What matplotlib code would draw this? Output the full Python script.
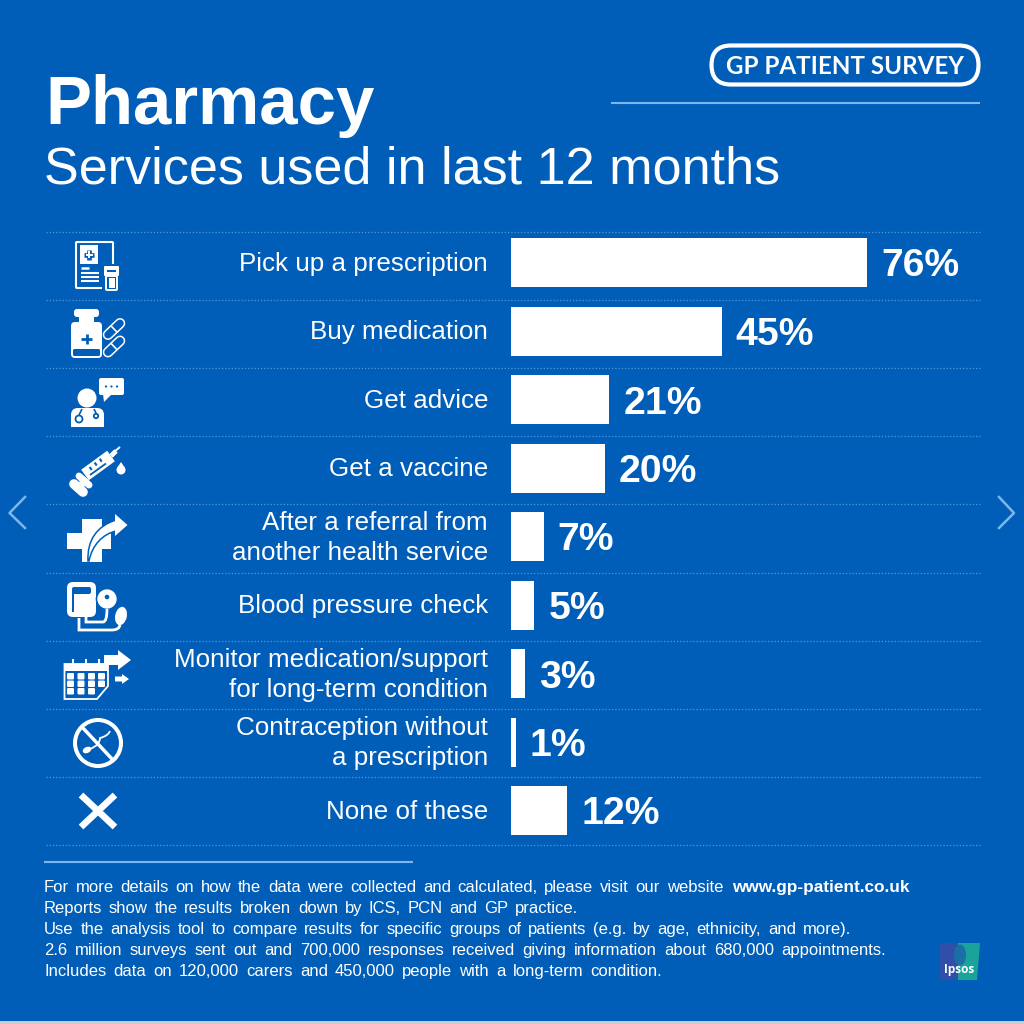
#!/usr/bin/env python3
# Pharmacy services infographic, GP Patient Survey
import matplotlib
matplotlib.use("Agg")
import matplotlib.pyplot as plt
from matplotlib.patches import Rectangle, FancyBboxPatch, Circle, Ellipse, Polygon, PathPatch
from matplotlib.path import Path as MPath

BLUE = "#015EB8"
LIGHT = "#7DB5EE"
WHITE = "#FFFFFF"

plt.rcParams["font.family"] = ["Liberation Sans", "DejaVu Sans"]

labels = [
    "Pick up a prescription",
    "Buy medication",
    "Get advice",
    "Get a vaccine",
    "After a referral from\nanother health service",
    "Blood pressure check",
    "Monitor medication/support\nfor long-term condition",
    "Contraception without\na prescription",
    "None of these",
]
values = [76, 45, 21, 20, 7, 5, 3, 1, 12]
footer_lines = [
    "For more details on how the data were collected and calculated, please visit our website",
    "Reports show the results broken down by ICS, PCN and GP practice.",
    "Use the analysis tool to compare results for specific groups of patients (e.g. by age, ethnicity, and more).",
    "2.6 million surveys sent out and 700,000 responses received giving information about 680,000 appointments.",
    "Includes data on 120,000 carers and 450,000 people with a long-term condition.",
]
footer_link = "www.gp-patient.co.uk"


def box(ax, x, y, w, h, r=2, **kw):
    kw.setdefault("fc", WHITE)
    kw.setdefault("ec", "none")
    ax.add_patch(FancyBboxPatch((x + r, y + r), w - 2 * r, h - 2 * r,
                                boxstyle=f"round,pad={r},rounding_size={r}", **kw))


def rect(ax, x, y, w, h, c=WHITE):
    ax.add_patch(Rectangle((x, y), w, h, fc=c, ec="none"))


def poly(ax, pts, c=WHITE, **kw):
    ax.add_patch(Polygon(pts, closed=True, fc=c, ec="none", **kw))


def seg(ax, x0, y0, x1, y1, lw=1.5, c=WHITE, cap="butt"):
    ax.plot([x0, x1], [y0, y1], color=c, lw=lw, solid_capstyle=cap)


def capsule(ax, cx, cy):
    dx, dy = 6, -5.7
    seg(ax, cx - dx, cy - dy, cx + dx, cy + dy, 7.6, WHITE, "round")
    seg(ax, cx - dx, cy - dy, cx + dx, cy + dy, 5.4, BLUE, "round")
    seg(ax, cx - 3.3, cy - 3.5, cx + 3.3, cy + 3.5, 1.2)


def icon_prescription(ax):
    box(ax, 76, 242, 37, 46, 1, fc=BLUE, ec=WHITE, lw=1.5)
    rect(ax, 80, 245, 18, 19)
    seg(ax, 84, 254.5, 94, 254.5, 3.4, BLUE)
    seg(ax, 89, 249.5, 89, 259.5, 3.4, BLUE)
    seg(ax, 85.5, 254.5, 92.5, 254.5, 1.4)
    seg(ax, 89, 251, 89, 258, 1.4)
    seg(ax, 81, 268, 89, 268, 1.8)
    for y in (273, 277, 281):
        seg(ax, 81, y, 99, y, 1.5)
    rect(ax, 102, 264, 20, 28, BLUE)
    box(ax, 104, 266, 15, 10, 1)
    rect(ax, 107, 270, 9, 1.5, BLUE)
    box(ax, 106, 276, 11, 14, 1, fc=BLUE, ec=WHITE, lw=1.4)
    rect(ax, 109, 278, 5.5, 10, WHITE)


def icon_medication(ax):
    box(ax, 74, 309, 25, 8, 3)
    rect(ax, 79, 316, 15, 7)
    box(ax, 71, 322, 31, 36, 4)
    box(ax, 73, 349, 27, 7, 1.5, fc=BLUE)
    seg(ax, 81, 339, 92, 339, 2, BLUE)
    seg(ax, 86.5, 334, 86.5, 344, 2, BLUE)
    capsule(ax, 114, 329)
    capsule(ax, 114, 346.5)


def icon_doctor(ax):
    ax.add_patch(Circle((87, 398), 9.5, fc=WHITE, ec="none"))
    box(ax, 71, 408, 33, 19, 7)
    rect(ax, 71, 420, 33, 7)
    ax.add_patch(Circle((79, 419), 3.5, fc="none", ec=BLUE, lw=1.3))
    ax.add_patch(Circle((96, 416), 2.2, fc="none", ec=BLUE, lw=1.3))
    seg(ax, 79, 415, 82, 409, 1.2, BLUE)
    seg(ax, 96, 413, 94, 409, 1.2, BLUE)
    box(ax, 99, 378, 25, 17, 2)
    poly(ax, [(103, 394), (112, 394), (104, 402)])
    for x in (106, 111.5, 117):
        ax.add_patch(Circle((x, 386.5), 1.1, fc=BLUE, ec="none"))


def icon_syringe(ax):
    # barrel, plunger and needle run along one diagonal
    seg(ax, 85, 475, 111, 456, 9.4)
    seg(ax, 111, 456, 116, 451, 3.5)
    seg(ax, 114, 452, 120, 447, 1.4)
    seg(ax, 79, 476, 89, 485, 5, WHITE, "round")
    seg(ax, 78, 488, 87, 479, 5)
    seg(ax, 74, 484, 83, 492, 7, WHITE, "round")
    seg(ax, 90, 475, 106, 463.5, 1.3, BLUE)
    for x, y in ((91.7, 470), (96.7, 465.5), (101.7, 461.7)):
        seg(ax, x, y, x - 2, y - 3, 1.5, BLUE)
    ax.add_patch(Circle((121, 470), 4.5, fc=WHITE, ec="none"))
    poly(ax, [(117, 468), (125, 468), (121, 462)])


def icon_referral(ax):
    poly(ax, [(82, 519), (102, 519), (102, 533), (111, 533), (111, 549), (102, 549), (102, 562),
              (82, 562), (82, 549), (67, 549), (67, 533), (82, 533)])
    # curved arrow: white blade with a thin blue edge where it crosses the cross
    verts = [(88, 561), (87, 540), (97, 526), (116, 520), (116, 531), (103, 534), (92, 545), (89, 561), (88, 561)]
    codes = [MPath.MOVETO, MPath.CURVE4, MPath.CURVE4, MPath.CURVE4, MPath.LINETO,
             MPath.CURVE4, MPath.CURVE4, MPath.CURVE4, MPath.CLOSEPOLY]
    ax.add_patch(PathPatch(MPath(verts, codes), fc=WHITE, ec=BLUE, lw=1.1))
    poly(ax, [(115, 514), (127.5, 525), (115, 536)])


def icon_bp(ax):
    box(ax, 67, 582, 29, 35, 6)
    box(ax, 72, 587, 19, 7, 2, fc=BLUE)
    rect(ax, 72, 590, 2, 22, BLUE)
    ax.add_patch(Circle((107, 599), 10.5, fc=WHITE, ec=BLUE, lw=1.2))
    ax.add_patch(Circle((107, 597), 2.3, fc=BLUE, ec="none"))
    ax.add_patch(Ellipse((121, 616), 13, 20, angle=12, fc=WHITE, ec=BLUE, lw=1))
    p = MPath([(79, 618), (79, 630), (86, 630), (112, 630), (119, 630), (120, 625)],
              [MPath.MOVETO, MPath.LINETO, MPath.CURVE3, MPath.LINETO, MPath.CURVE3, MPath.CURVE3])
    ax.add_patch(PathPatch(p, fc="none", ec=WHITE, lw=2))
    p = MPath([(86, 617), (86, 622), (103, 622), (107, 622), (107, 609)],
              [MPath.MOVETO, MPath.LINETO, MPath.LINETO, MPath.CURVE3, MPath.CURVE3])
    ax.add_patch(PathPatch(p, fc="none", ec=WHITE, lw=2))


def icon_calendar(ax):
    ax.add_patch(Polygon([(64.5, 664), (108, 664), (108, 686), (97, 699), (64.5, 699)],
                         closed=True, fc=BLUE, ec=WHITE, lw=1.3))
    rect(ax, 65, 664, 43, 7)
    for x in (73, 86, 99):
        seg(ax, x, 659, x, 667, 1.5)
    for x in (67, 77.5, 88, 98):
        for y in (673, 680.5, 688):
            if x == 98 and y == 688:
                continue
            box(ax, x, y, 7, 6.5, 1.2)
    poly(ax, [(104, 655), (118, 655), (118, 650), (131, 660), (118, 670), (118, 665), (104, 665)])
    poly(ax, [(115, 676.5), (122, 676.5), (122, 674), (129, 679), (122, 684), (122, 681.5), (115, 681.5)])


def icon_contraception(ax):
    ax.add_patch(Circle((98, 743), 23, fc="none", ec=WHITE, lw=2.9))
    seg(ax, 82, 727, 113, 760, 2.5)
    ax.add_patch(Ellipse((87, 750), 9, 6, angle=-25, fc=WHITE, ec="none"))
    p = MPath([(90, 749), (100, 745), (100, 738), (108, 736), (110, 731)],
              [MPath.MOVETO, MPath.CURVE3, MPath.CURVE3, MPath.CURVE3, MPath.CURVE3])
    ax.add_patch(PathPatch(p, fc="none", ec=WHITE, lw=1.3))


def icon_none(ax):
    seg(ax, 81, 795, 115, 827, 4.8)
    seg(ax, 115, 795, 81, 827, 4.8)


def fit_line(fig, ax, text, x0, x1, y, fontsize):
    # the original sets these lines with wide word gaps, so space the words out to the measured edge
    renderer = fig.canvas.get_renderer()
    words = text.split(" ")
    items = [ax.text(x0, y, w, fontsize=fontsize, color=WHITE, va="baseline", ha="left") for w in words]
    widths = [t.get_window_extent(renderer).width for t in items]
    gap = (x1 - x0 - sum(widths)) / (len(words) - 1)
    x = x0
    for t, w in zip(items, widths):
        t.set_x(x)
        x += w + gap


def main():
    fig = plt.figure(figsize=(10.24, 10.24), dpi=100, facecolor=BLUE)

    # overlay in pixel coordinates for the layout furniture
    ax = fig.add_axes([0, 0, 1, 1])
    ax.set_xlim(0, 1024)
    ax.set_ylim(1024, 0)
    ax.axis("off")

    rect(ax, 0, 1021, 1024, 3, "#C9CDD2")

    ax.text(45, 123.5, "Pharmacy", fontsize=49.6, fontweight="bold", color=WHITE, va="baseline", ha="left")
    ax.text(44, 184, "Services used in last 12 months", fontsize=37.55, color=WHITE, va="baseline", ha="left")

    box(ax, 711.5, 45.5, 267, 39, 19.5, fc=BLUE, ec=WHITE, lw=3)
    ax.text(845, 66, "GP PATIENT SURVEY", fontsize=17.4, fontweight="bold", family="Lato",
            color=WHITE, va="center", ha="center")
    seg(ax, 611, 102.5, 980, 102.5, 1.5, LIGHT)
    seg(ax, 44, 861.5, 413, 861.5, 1.5, LIGHT)

    # dotted row separators
    n = len(values)
    for i in range(n + 1):
        y = 232 + i * (845 - 232) / n
        ax.plot([46, 980], [y, y], color=LIGHT, lw=0.9, ls=(0, (1, 1.6)), alpha=0.65)

    row_h = 68.5
    for i, lab in enumerate(labels):
        y = 262.5 + i * row_h
        if "\n" in lab:
            first, second = lab.split("\n")
            ax.text(488, y - 6.5, first, fontsize=18.7, color=WHITE, ha="right", va="baseline")
            ax.text(488, y + 23.5, second, fontsize=18.7, color=WHITE, ha="right", va="baseline")
        else:
            ax.text(488, y + 8.5, lab, fontsize=18.7, color=WHITE, ha="right", va="baseline")

    for draw in (icon_prescription, icon_medication, icon_doctor, icon_syringe, icon_referral,
                 icon_bp, icon_calendar, icon_contraception, icon_none):
        draw(ax)

    # side chevrons
    ax.plot([25, 9.5, 25], [497, 513, 528], color=LIGHT, lw=1.8)
    ax.plot([999, 1014, 999], [497, 513, 528], color=LIGHT, lw=1.8)

    # bars on their own axes: 0-100 % over 468.4 px
    top = 262.5 - row_h / 2
    bx = fig.add_axes([511 / 1024, 1 - (top + n * row_h) / 1024, 468.4 / 1024, n * row_h / 1024])
    bx.set_xlim(0, 100)
    bx.set_ylim(n - 0.5, -0.5)
    bx.axis("off")
    pos = list(range(n))
    bx.barh(pos, values, height=49 / row_h, color=WHITE, edgecolor="none")
    for p, v in zip(pos, values):
        bx.annotate(f"{v}%", (v, p), xytext=(14, -4), textcoords="offset pixels", fontsize=28.2,
                    fontweight="bold", color=WHITE, va="center", ha="left")

    # footer
    ys = [892, 913, 934, 955, 976]
    ends = [723, 578, 851, 886, 662]
    for y, end, line in zip(ys, ends, footer_lines):
        fit_line(fig, ax, line, 44, end, y, 12.0)
    ax.text(732, ys[0], footer_link, fontsize=12.4, fontweight="bold", color=WHITE, va="baseline", ha="left")

    # Ipsos mark
    poly(ax, [(940, 943), (980, 943), (977, 980), (940, 980)], c="#19A39A")
    rect(ax, 940, 943, 18, 37, "#2F4FA8")
    ax.add_patch(Ellipse((960, 955), 12, 21, fc="#1B6FA6", ec="none"))
    ax.text(959, 970, "Ipsos", fontsize=8.5, fontweight="bold", family="Open Sans", color=WHITE,
            ha="center", va="center")

    fig.savefig("out.png", dpi=100, facecolor=BLUE)
    plt.close(fig)


if __name__ == "__main__":
    main()
